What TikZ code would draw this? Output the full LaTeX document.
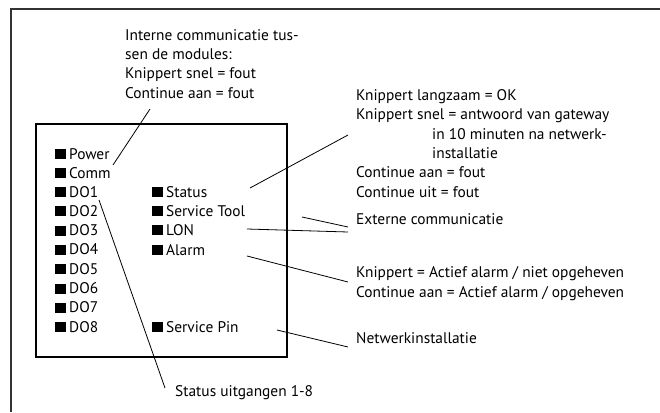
\documentclass[tikz,border=0pt]{standalone}
\usepackage{fontspec}
\setmainfont{PT Sans}
\begin{document}
\begin{tikzpicture}[x=1pt, y=-1pt,
  every node/.style={inner sep=0pt, anchor=base west, align=left,
    font=\fontsize{15.4}{19.3}\selectfont},
  lead/.style={line width=0.8pt}]
\useasboundingbox (0,0) rectangle (660,412);
% frame
\draw[line width=1.4pt, black!80] (660,9) -- (11,9) -- (11,412);
% module
\draw[line width=1.1pt] (36,124) rectangle (287,357);
\newcommand{\ledbox}{\rule{10.5pt}{10pt}\hspace{3.5pt}}
% left column leds
\node (power) at (55,159) {\ledbox Power};
\node (comm) at (55,178) {\ledbox Comm};
\foreach \i in {1,...,8}
  \node (do\i) at (55,{197+(\i-1)*19.3}) {\ledbox DO\i};
% right column leds
\node (status) at (152,197) {\ledbox Status};
\node (tool) at (152,216) {\ledbox Service Tool};
\node (lon) at (152,235) {\ledbox LON};
\node (alarm) at (152,255) {\ledbox Alarm};
\node (pin) at (152,332) {\ledbox Service Pin};
% annotations (placed by last baseline)
\node (intern) at (125,98) {Interne communicatie tus-\\sen de modules:\\Knippert snel = fout\\Continue aan = fout};
\node (statusinfo) at (356,197) {Knippert langzaam = OK\\Knippert snel = antwoord van gateway\\\hspace{76pt}in 10 minuten na netwerk-\\\hspace{76pt}installatie\\Continue aan = fout\\Continue uit = fout};
\node (extern) at (356,224) {Externe communicatie};
\node (alarminfo) at (356,297) {Knippert = Actief alarm / niet opgeheven\\Continue aan = Actief alarm / opgeheven};
\node (netwerk) at (356,343) {Netwerkinstallatie};
\node (uitgang) at (175,396) {Status uitgangen 1-8};
% leader ends
\coordinate (c1) at (150,109); \coordinate (c2) at (113,165);
\coordinate (s1) at (250,188); \coordinate (s2) at (348,135);
\coordinate (t1) at (302,217); \coordinate (t2) at (348,227);
\coordinate (l1) at (247,229); \coordinate (l2) at (348,232);
\coordinate (a1) at (247,256); \coordinate (a2) at (348,282);
\coordinate (p1) at (277,330); \coordinate (p2) at (348,347);
\coordinate (d1) at (99,200);  \coordinate (d2) at (165,388);
\draw[lead] (c1) -- (c2);
\draw[lead] (s1) -- (s2);
\draw[lead] (t1) -- (t2);
\draw[lead] (l1) -- (l2);
\draw[lead] (a1) -- (a2);
\draw[lead] (p1) -- (p2);
\draw[lead] (d1) -- (d2);
\end{tikzpicture}
\end{document}
